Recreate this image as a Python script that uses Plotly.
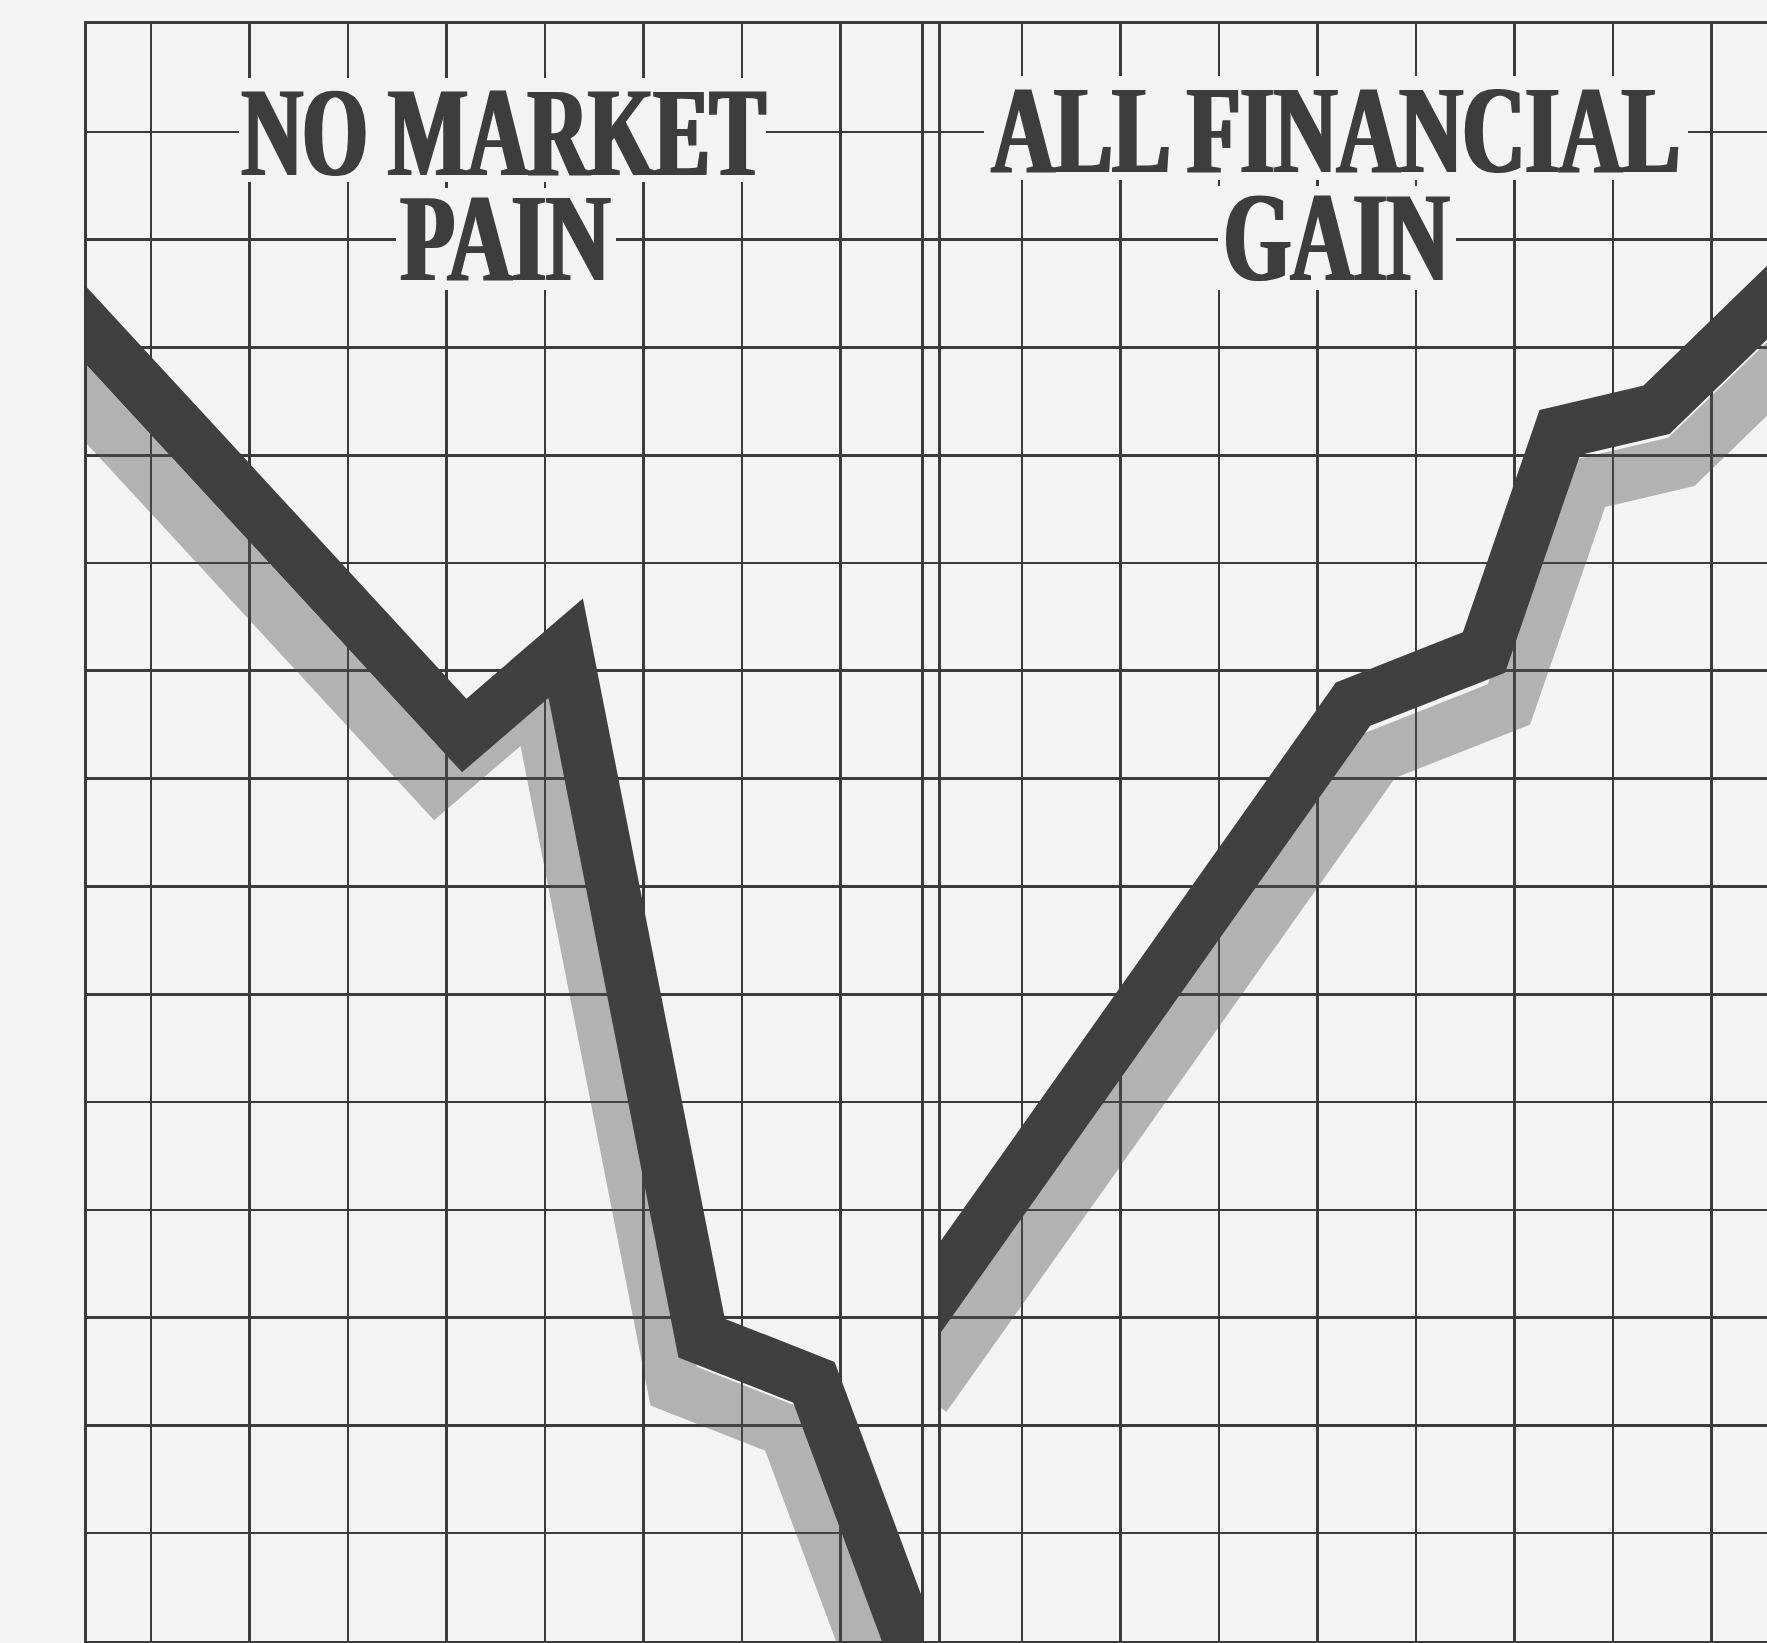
import plotly.graph_objects as go

# ---------------- data ----------------
# Units: one grid cell per unit. x = 0 is the first vertical grid line of each panel,
# y = 0 is the bottom border of the grid paper.
pain_x = [-1.13, 3.18, 4.21, 5.59, 6.73, 7.93]
pain_y = [12.67, 8.40, 9.21, 2.81, 2.40, -0.55]

gain_x = [-1.24, 3.36, 4.69, 5.46, 6.44, 8.20]
gain_y = [2.75, 8.69, 9.17, 11.21, 11.42, 12.98]

left_title = ["NO MARKET", "PAIN"]
right_title = ["ALL FINANCIAL", "GAIN"]

# ---------------- layout geometry (pixels) ----------------
W, H = 1767, 1643
CELL_W, CELL_H = 98.5, 107.8
GRID_TOP, GRID_BOTTOM = 24, 1641
LEFT_EDGE, DIV_A, DIV_B, RIGHT_EDGE = 87, 921, 941, 1767
LEFT_ORIGIN, RIGHT_ORIGIN = 151, 1022
N_ROWS = 15

PAPER = "#f3f3f3"
INK = "#3d3d3d"
GRID = "#3b3b3b"
SHADOW = "rgba(80,80,80,0.40)"
LINE_W = 53

ydom = [(H - GRID_BOTTOM) / H, (H - GRID_TOP) / H]
left_range = [(LEFT_EDGE - LEFT_ORIGIN) / CELL_W, (DIV_A - LEFT_ORIGIN) / CELL_W]
right_range = [(DIV_B - RIGHT_ORIGIN) / CELL_W, (RIGHT_EDGE - RIGHT_ORIGIN) / CELL_W]

# shadow offsets (pixels -> units)
L_SH = (-28 / CELL_W, -48 / CELL_H)
R_SH = (25 / CELL_W, -52 / CELL_H)

fig = go.Figure()

# background grid subplot (horizontal rules + border)
fig.add_trace(go.Scatter(x=[], y=[], xaxis="x", yaxis="y", showlegend=False, hoverinfo="skip"))

# left panel: shadow then line
fig.add_trace(go.Scatter(
    x=[v + L_SH[0] for v in pain_x], y=[v + L_SH[1] for v in pain_y],
    xaxis="x2", yaxis="y2", mode="lines",
    line=dict(color=SHADOW, width=LINE_W), showlegend=False, hoverinfo="skip"))
fig.add_trace(go.Scatter(
    x=pain_x, y=pain_y, xaxis="x2", yaxis="y2", mode="lines",
    line=dict(color="#404040", width=LINE_W), showlegend=False, hoverinfo="skip"))

# right panel: shadow then line
fig.add_trace(go.Scatter(
    x=[v + R_SH[0] for v in gain_x], y=[v + R_SH[1] for v in gain_y],
    xaxis="x3", yaxis="y3", mode="lines",
    line=dict(color=SHADOW, width=LINE_W), showlegend=False, hoverinfo="skip"))
fig.add_trace(go.Scatter(
    x=gain_x, y=gain_y, xaxis="x3", yaxis="y3", mode="lines",
    line=dict(color="#404040", width=LINE_W), showlegend=False, hoverinfo="skip"))

hidden = dict(showticklabels=False, ticks="", zeroline=False)

fig.update_layout(
    width=W, height=H, autosize=False,
    margin=dict(l=0, r=0, t=0, b=0, pad=0),
    paper_bgcolor=PAPER, plot_bgcolor="rgba(0,0,0,0)",
    showlegend=False, hovermode=False,
    xaxis=dict(domain=[LEFT_EDGE / W, 1], range=[0, 1], anchor="y", showgrid=False,
               showline=True, mirror=True, linecolor=GRID, linewidth=3.5, **hidden),
    yaxis=dict(domain=ydom, range=[0, N_ROWS], anchor="x", showgrid=True, dtick=1, tick0=0,
               gridcolor=GRID, gridwidth=2.6, showline=True, mirror=False,
               linecolor=GRID, linewidth=3.5, **hidden),
    xaxis2=dict(domain=[LEFT_EDGE / W, DIV_A / W], range=left_range, anchor="y2",
                showgrid=True, dtick=1, tick0=0, gridcolor=GRID, gridwidth=2.6,
                showline=False, **hidden),
    yaxis2=dict(domain=ydom, range=[0, N_ROWS], anchor="x2", side="right", showgrid=False,
                showline=True, linecolor=GRID, linewidth=3, **hidden),
    xaxis3=dict(domain=[DIV_B / W, 1], range=right_range, anchor="y3",
                showgrid=True, dtick=1, tick0=0, gridcolor=GRID, gridwidth=2.6,
                showline=False, **hidden),
    yaxis3=dict(domain=ydom, range=[0, N_ROWS], anchor="x3", side="left", showgrid=False,
                showline=True, linecolor=GRID, linewidth=3, **hidden),
)

# paper masks that interrupt the grid rules around each headline line (x0, y0, x1, y1 px)
masks_px = [(239, 78, 766, 182), (396, 188, 616, 290),
            (984, 76, 1688, 180), (1218, 186, 1456, 290)]
for x0, y0, x1, y1 in masks_px:
    fig.add_shape(type="rect", xref="paper", yref="paper",
                  x0=x0 / W, x1=x1 / W, y0=1 - y1 / H, y1=1 - y0 / H,
                  fillcolor=PAPER, line=dict(width=0), layer="above")

# headline lines: (centre x px, top of text box px)
FONT_SIZE = 126
title_pos = [(504, 62), (506, 167), (1336, 59), (1336, 167)]
for text, (cx, top) in zip(left_title + right_title, title_pos):
    fig.add_annotation(
        text=text, xref="paper", yref="paper", x=cx / W, y=1 - top / H,
        xanchor="center", yanchor="top", align="center", showarrow=False,
        font=dict(family="Liberation Serif", size=FONT_SIZE, color=INK, weight="bold"),
        borderpad=0)

# condense the bold serif headline horizontally (the original is set in a heavy
# condensed face) and thicken its vertical stems a little
post = """
document.body.style.margin = '0';
document.body.style.background = '#f3f3f3';
var gd = document.getElementById('{plot_id}');
var ns = 'http://www.w3.org/2000/svg';
if(!document.getElementById('stem-thicken')){
  var holder = document.createElementNS(ns, 'svg');
  holder.setAttribute('width', '0'); holder.setAttribute('height', '0');
  holder.style.position = 'absolute'; holder.style.left = '0'; holder.style.top = '0';
  var defs = document.createElementNS(ns, 'defs');
  var f = document.createElementNS(ns, 'filter');
  f.setAttribute('id', 'stem-thicken');
  f.setAttribute('x', '-5%'); f.setAttribute('y', '-5%');
  f.setAttribute('width', '110%'); f.setAttribute('height', '110%');
  var m = document.createElementNS(ns, 'feMorphology');
  m.setAttribute('operator', 'dilate'); m.setAttribute('radius', '2.6 0.3');
  f.appendChild(m); defs.appendChild(f); holder.appendChild(defs);
  document.body.appendChild(holder);
}
var sx = [0.665, 0.70, 0.69, 0.685];
function condense(){
  gd.querySelectorAll('g.annotation').forEach(function(g){
    var t = g.querySelector('text.annotation-text');
    if(!t) return;
    var i = parseInt(g.getAttribute('data-index'));
    var s = (isNaN(i) || sx[i] === undefined) ? 0.68 : sx[i];
    t.style.transformBox = 'fill-box';
    t.style.transformOrigin = 'center';
    t.style.transform = 'scaleX(' + s + ')';
    t.setAttribute('filter', 'url(#stem-thicken)');
  });
}
condense();
gd.on('plotly_afterplot', condense);
"""

fig.write_html("out.html", config={"displayModeBar": False, "staticPlot": True}, post_script=post)
